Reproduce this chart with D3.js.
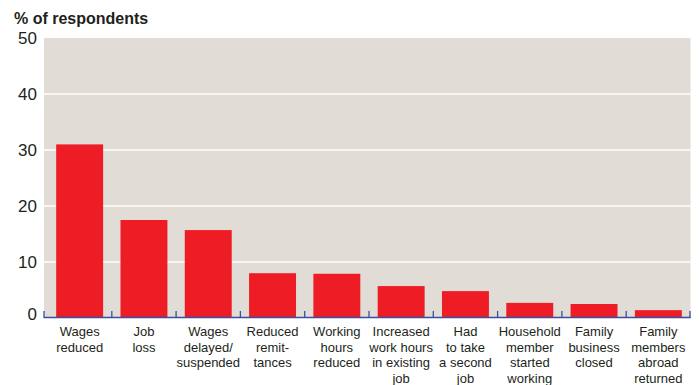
<!DOCTYPE html>
<html>
<head>
<meta charset="utf-8">
<script src="https://cdn.jsdelivr.net/npm/d3@7"></script>
<style>
  html, body { margin: 0; padding: 0; background: #ffffff; }
  svg { display: block; font-family: "Liberation Sans", Arial, sans-serif; }
</style>
</head>
<body>
<svg id="chart" width="699" height="385"></svg>
<script>
// Impacts on household income and work
const categories = [
  ["Wages", "reduced"],
  ["Job", "loss"],
  ["Wages", "delayed/", "suspended"],
  ["Reduced", "remit-", "tances"],
  ["Working", "hours", "reduced"],
  ["Increased", "work hours", "in existing", "job"],
  ["Had", "to take", "a second", "job"],
  ["Household", "member", "started", "working"],
  ["Family", "business", "closed"],
  ["Family", "members", "abroad", "returned"]
];
const values = [31.0, 17.5, 15.7, 8.0, 7.9, 5.7, 4.8, 2.7, 2.5, 1.4];
const yTicks = [0, 10, 20, 30, 40, 50];
const yTitle = "% of respondents";

const svg = d3.select("#chart");
const plot = { left: 44, right: 690.5, top: 38, bottom: 318 };

const y = d3.scaleLinear().domain([0, 50]).range([plot.bottom, plot.top]);
const x = d3.scaleBand()
  .domain(d3.range(categories.length))
  .range([47.5, plot.right])
  .paddingInner(0.27)
  .paddingOuter(0.135);

// Background panel
svg.append("rect")
  .attr("x", plot.left).attr("y", y(50))
  .attr("width", plot.right - plot.left)
  .attr("height", y(0) - y(50))
  .attr("fill", "#e1ddd6");

// White gridlines
svg.append("g")
  .selectAll("line")
  .data(yTicks.filter(t => t > 0 && t < 50))
  .join("line")
  .attr("x1", plot.left).attr("x2", plot.right)
  .attr("y1", d => y(d)).attr("y2", d => y(d))
  .attr("stroke", "#ffffff").attr("stroke-width", 1.5);

// Y axis labels
const yAxis = d3.axisLeft(y).tickValues(yTicks).tickSize(0).tickPadding(7);
const gy = svg.append("g").attr("transform", `translate(${plot.left},0)`).call(yAxis);
gy.select(".domain").remove();
gy.selectAll("text")
  .attr("font-size", 17)
  .attr("fill", "#231f20")
  .attr("font-family", "Liberation Sans, Arial, sans-serif")
  .attr("dy", d => d === 0 ? "0.1em" : "0.32em");

// Title
svg.append("text")
  .attr("x", 14).attr("y", 24)
  .attr("font-size", 16)
  .attr("font-weight", "bold")
  .attr("fill", "#231f20")
  .text(yTitle);

// Bars
svg.append("g")
  .selectAll("rect")
  .data(values)
  .join("rect")
  .attr("x", (d, i) => x(i))
  .attr("y", d => y(d))
  .attr("width", x.bandwidth())
  .attr("height", d => y(0) - y(d))
  .attr("fill", "#ee1c25");

// X axis: baseline with upward ticks at band boundaries
const axisColor = "#3b4da0";
const gap = (x.step() - x.bandwidth()) / 2;
const boundaries = [plot.left].concat(d3.range(1, categories.length).map(i => x(i) - gap), [plot.right - 0.5]);
svg.append("line")
  .attr("x1", plot.left).attr("x2", plot.right)
  .attr("y1", y(0) - 0.5).attr("y2", y(0) - 0.5)
  .attr("stroke", axisColor).attr("stroke-width", 1.5);
svg.append("g")
  .selectAll("line")
  .data(boundaries)
  .join("line")
  .attr("x1", d => d).attr("x2", d => d)
  .attr("y1", y(0) - 7).attr("y2", y(0))
  .attr("stroke", axisColor).attr("stroke-width", 1.3);

// Category labels
const lab = svg.append("g")
  .selectAll("text")
  .data(categories)
  .join("text")
  .attr("x", (d, i) => x(i) + x.bandwidth() / 2)
  .attr("y", 336)
  .attr("text-anchor", "middle")
  .attr("font-size", 13)
  .attr("fill", "#231f20");
lab.selectAll("tspan")
  .data(d => d)
  .join("tspan")
  .attr("x", function() { return this.parentNode.getAttribute("x"); })
  .attr("dy", (d, i) => i === 0 ? 0 : 15.5)
  .text(d => d);
</script>
</body>
</html>
